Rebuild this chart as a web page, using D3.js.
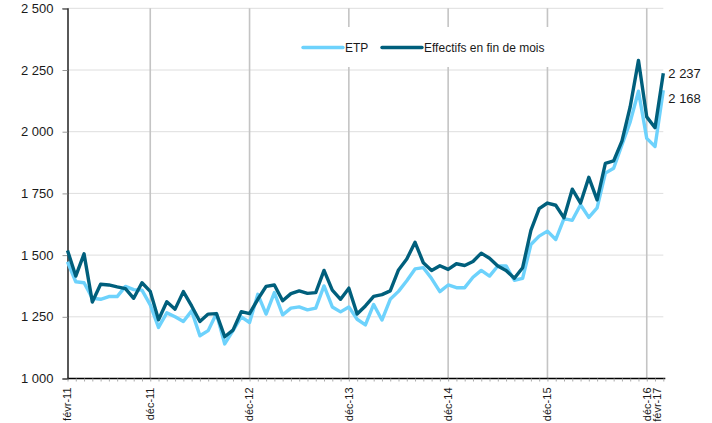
<!DOCTYPE html>
<html>
<head>
<meta charset="utf-8">
<script src="https://cdn.jsdelivr.net/npm/d3@7"></script>
<style>
  html, body { margin: 0; padding: 0; background: #fff; }
  svg { display: block; font-family: "Liberation Sans", Arial, sans-serif; }
</style>
</head>
<body>
<svg id="chart" width="712" height="423"></svg>
<script>
// monthly series, févr-11 .. févr-17
const monthNames = ['janv', 'févr', 'mars', 'avr', 'mai', 'juin', 'juil', 'août', 'sept', 'oct', 'nov', 'déc'];
const etp = [
  1473, 1392, 1388, 1325, 1321, 1332, 1332, 1373, 1360, 1358, 1298, 1207,
  1266, 1250, 1231, 1274, 1173, 1194, 1263, 1140, 1194, 1250, 1227, 1341,
  1261, 1348, 1258, 1285, 1290, 1278, 1285, 1375, 1290, 1270, 1290, 1240,
  1217, 1300, 1237, 1321, 1353, 1396, 1444, 1449, 1405, 1352, 1379, 1368,
  1368, 1410, 1438, 1415, 1456, 1456, 1398, 1406, 1543, 1577, 1597, 1563,
  1648, 1641, 1704, 1653, 1691, 1832, 1852, 1946, 2040, 2164, 1973, 1940,
  2168
];
const effectifs = [
  1519, 1415, 1505, 1310, 1382, 1379, 1371, 1364, 1325, 1388, 1353, 1238,
  1311, 1281, 1352, 1294, 1231, 1261, 1263, 1169, 1196, 1271, 1263, 1321,
  1373, 1379, 1315, 1344, 1355, 1345, 1348, 1438, 1358, 1321, 1366, 1261,
  1294, 1333, 1340, 1355, 1440, 1484, 1552, 1469, 1438, 1457, 1442, 1465,
  1458, 1474, 1508, 1487, 1456, 1438, 1406, 1449, 1600, 1688, 1711, 1702,
  1651, 1767, 1711, 1815, 1724, 1872, 1882, 1962, 2101, 2289, 2060, 2016,
  2237
];
const tickLabels = ['févr-11', 'déc-11', 'déc-12', 'déc-13', 'déc-14', 'déc-15', 'déc-16', 'févr-17'];
const yTicks = [1000, 1250, 1500, 1750, 2000, 2250, 2500];

const categories = etp.map((_, i) => {
  const m = (1 + i) % 12;
  const yr = 11 + Math.floor((1 + i) / 12);
  return `${monthNames[m]}-${yr}`;
});

const series = [
  { name: 'ETP', values: etp, color: '#6dd2fc' },
  { name: 'Effectifs en fin de mois', values: effectifs, color: '#005f7c' },
];

const fr = d3.formatLocale({ decimal: ',', thousands: ' ', grouping: [3], currency: ['', ' €'] });
const fmt = fr.format(',d');

const svg = d3.select('#chart');
const left = 67.5;
const right = 663.3;
const x = d3.scalePoint().domain(categories).range([left, right]);
const y = d3.scaleLinear().domain([1000, 2500]).range([378.5, 8.3]);

// horizontal grid
svg.append('g')
  .selectAll('line')
  .data(yTicks.slice(1))
  .enter().append('line')
  .attr('x1', left).attr('x2', right)
  .attr('y1', (d) => y(d)).attr('y2', (d) => y(d))
  .attr('stroke', '#dedede')
  .attr('stroke-width', 1);

// vertical grid at the déc labels
const decs = tickLabels.filter((t) => t.startsWith('déc'));
svg.append('g')
  .selectAll('line')
  .data(decs)
  .enter().append('line')
  .attr('x1', (d) => x(d)).attr('x2', (d) => x(d))
  .attr('y1', y(2500)).attr('y2', y(1000))
  .attr('stroke', '#c4c4c4')
  .attr('stroke-width', 1.6);

// y axis
const yAxis = svg.append('g')
  .attr('transform', `translate(${left},0)`)
  .call(d3.axisLeft(y).tickValues(yTicks).tickFormat(fmt).tickSize(5).tickPadding(9));
yAxis.select('.domain').attr('stroke', '#000').attr('stroke-width', 1.3);
yAxis.selectAll('.tick line').attr('stroke', '#999');
yAxis.selectAll('.tick text')
  .attr('font-size', 13)
  .attr('font-family', '"Liberation Sans", Arial, sans-serif')
  .attr('fill', '#1a1a1a');

// x axis with monthly minor ticks
const xAxis = svg.append('g')
  .attr('transform', `translate(0,${y(1000)})`)
  .call(d3.axisBottom(x).tickValues(categories).tickSize(3).tickFormat(''));
xAxis.select('.domain').attr('stroke', '#000').attr('stroke-width', 1.6).attr('d', `M${left},0H${right + 2}`);
xAxis.selectAll('.tick line').attr('stroke', '#aaa');

const labelShift = { 'févr-17': -6 };
svg.append('g')
  .selectAll('text')
  .data(tickLabels)
  .enter().append('text')
  .attr('transform', (d) => `translate(${x(d) + (labelShift[d] || 0)},${y(1000) + 9}) rotate(-90)`)
  .attr('text-anchor', 'end')
  .attr('dy', '0.35em')
  .attr('font-size', 11)
  .attr('fill', '#1a1a1a')
  .text((d) => d);

// lines
const line = d3.line()
  .x((d, i) => x(categories[i]))
  .y((d) => y(d));

svg.append('g')
  .selectAll('path')
  .data(series)
  .enter().append('path')
  .attr('d', (d) => line(d.values))
  .attr('fill', 'none')
  .attr('stroke', (d) => d.color)
  .attr('stroke-width', 3.4)
  .attr('stroke-linejoin', 'round');

// end labels
const last = categories.length - 1;
const darkY = y(effectifs[last]);
const lightY = Math.max(y(etp[last]), darkY + 25);
svg.append('text')
  .attr('x', right + 5).attr('y', darkY).attr('dy', '0.35em')
  .attr('font-size', 13).attr('fill', '#1a1a1a')
  .text(fmt(effectifs[last]));
svg.append('text')
  .attr('x', right + 5).attr('y', lightY).attr('dy', '0.35em')
  .attr('font-size', 13).attr('fill', '#1a1a1a')
  .text(fmt(etp[last]));

// legend
const legend = svg.append('g');
legend.append('rect')
  .attr('x', 296).attr('y', 27).attr('width', 262).attr('height', 40)
  .attr('fill', '#fff');
const legendItems = legend.selectAll('g')
  .data(series)
  .enter().append('g')
  .attr('transform', (d, i) => `translate(${i === 0 ? 303 : 382},47.5)`);
legendItems.append('line')
  .attr('x1', 0).attr('x2', 40)
  .attr('stroke', (d) => d.color)
  .attr('stroke-width', 3.4)
  .attr('stroke-linecap', 'round');
legendItems.append('text')
  .attr('x', 42).attr('dy', '0.35em')
  .attr('font-size', 12).attr('fill', '#1a1a1a')
  .text((d) => d.name);
</script>
</body>
</html>
